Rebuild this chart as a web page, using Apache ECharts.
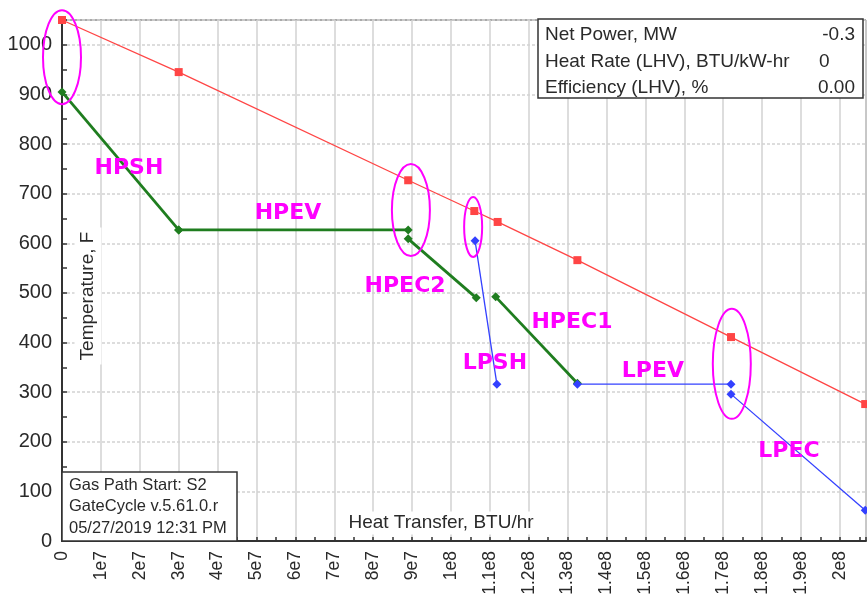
<!DOCTYPE html>
<html><head><meta charset="utf-8">
<script src="https://cdn.jsdelivr.net/npm/echarts@6/dist/echarts.min.js"></script>
<style>html,body{margin:0;padding:0;background:#fff}#c{width:867px;height:595px}</style>
</head><body><div id="c"></div>
<script>
// ---- data ----
const gasX = [0, 3.0e7, 8.9e7, 1.06e8, 1.12e8, 1.325e8, 1.72e8, 2.065e8];
const gasT = [1050, 945, 727, 665, 643, 566, 411, 276];
const hpshX = [0, 3.0e7];         const hpshT = [905, 627];
const hpevX = [3.0e7, 8.9e7];     const hpevT = [627, 627];
const hpec2X = [8.9e7, 1.065e8];  const hpec2T = [609, 490];
const hpec1X = [1.115e8, 1.325e8];const hpec1T = [492, 318];
const lpshX = [1.062e8, 1.118e8]; const lpshT = [605, 316];
const lpevX = [1.325e8, 1.72e8];  const lpevT = [316, 316];
const lpecX = [1.72e8, 2.065e8];  const lpecT = [296, 62];

const annotNames = ['HPSH', 'HPEV', 'HPEC2', 'HPEC1', 'LPSH', 'LPEV', 'LPEC'];
const annotX = [1.72e7, 5.81e7, 8.82e7, 1.311e8, 1.113e8, 1.519e8, 1.869e8];
const annotY = [752, 661, 514, 441, 359, 343, 181];
const ellipseX = [0, 8.97e7, 1.057e8, 1.722e8];
const ellipseY = [975, 667, 633, 357];

const infoLabels = ['Net Power, MW', 'Heat Rate (LHV), BTU/kW-hr', 'Efficiency (LHV), %'];
const infoValues = ['-0.3', '0', '0.00'];
const stampLines = ['Gas Path Start: S2', 'GateCycle v.5.61.0.r', '05/27/2019 12:31 PM'];

const xTitle = 'Heat Transfer, BTU/hr';
const yTitle = 'Temperature, F';

// ---- styles ----
const FONT = '"Liberation Sans", Arial, sans-serif';
const TXT = '#2a2a2a';
const GREEN = '#1f7d1f', RED = '#ff4545', BLUE = '#3340ff', MAG = '#ff00ff';
const ellipseR = [[19, 47], [19, 46], [9, 30], [19, 55]];

function xFmt(v) {
  if (v === 0) return '0';
  return Number(v).toExponential().replace('e+', 'e');
}
function yFmt(v) { return String(v); }
function seg(xs, ys, color, width, symbol, size) {
  return {
    type: 'line', data: xs.map((x, i) => [x, ys[i]]),
    lineStyle: { color: color, width: width }, itemStyle: { color: color },
    symbol: symbol, symbolSize: size, showSymbol: true, clip: false,
    animation: false, silent: true, z: 3
  };
}

const chart = echarts.init(document.getElementById('c'), null, { renderer: 'canvas' });
const option = {
  animation: false,
  backgroundColor: '#fff',
  grid: { left: 62, right: 1, top: 20, bottom: 54, show: true, borderColor: '#555', borderWidth: 1,
    containLabel: false, outerBoundsMode: 'none' },
  xAxis: [{
    type: 'value', min: 0, max: 2.067e8, interval: 1e7,
    axisLine: { show: true, onZero: false, lineStyle: { color: '#333', width: 2 } },
    axisTick: { show: false },
    axisLabel: { rotate: 90, margin: 10, fontSize: 17.5, color: TXT, fontFamily: FONT, formatter: xFmt, showMaxLabel: false },
    splitLine: { show: true, lineStyle: { color: '#d2d2d2', width: 1.5 } }
  }, {
    type: 'value', min: 0, max: 2.067e8, interval: 5e6, position: 'bottom',
    axisLine: { show: false }, axisLabel: { show: false }, splitLine: { show: false },
    axisTick: { show: true, inside: true, length: 4, lineStyle: { color: '#333', width: 1.5 } }
  }],
  yAxis: [{
    type: 'value', min: 0, max: 1050, interval: 100,
    axisLine: { show: true, lineStyle: { color: '#333', width: 2 } },
    axisTick: { show: false },
    axisLabel: { margin: 10, fontSize: 20, color: TXT, fontFamily: FONT, formatter: yFmt, showMaxLabel: false },
    splitLine: { show: true, lineStyle: { color: '#d2d2d2', width: 1.5, type: [3, 2] } }
  }, {
    type: 'value', min: 0, max: 1050, interval: 50, position: 'left',
    axisLine: { show: false }, axisLabel: { show: false }, splitLine: { show: false },
    axisTick: { show: true, inside: true, length: 5, lineStyle: { color: '#333', width: 1.5 } }
  }],
  series: [
    seg(gasX, gasT, RED, 1.3, 'rect', 8),
    seg(hpshX, hpshT, GREEN, 2.8, 'diamond', 9),
    seg(hpevX, hpevT, GREEN, 2.8, 'diamond', 9),
    seg(hpec2X, hpec2T, GREEN, 2.8, 'diamond', 9),
    seg(hpec1X, hpec1T, GREEN, 2.8, 'diamond', 9),
    seg(lpshX, lpshT, BLUE, 1.3, 'diamond', 9),
    seg(lpevX, lpevT, BLUE, 1.3, 'diamond', 9),
    seg(lpecX, lpecT, BLUE, 1.3, 'diamond', 9)
  ]
};
chart.setOption(option);

// ---- annotations placed through the chart's own scales ----
const g = [];
ellipseX.forEach((x, i) => {
  const p = chart.convertToPixel({ gridIndex: 0 }, [x, ellipseY[i]]);
  g.push({ type: 'ellipse', shape: { cx: p[0], cy: p[1], rx: ellipseR[i][0], ry: ellipseR[i][1] },
    style: { fill: 'none', stroke: MAG, lineWidth: 2 }, z: 20, silent: true });
});
annotNames.forEach((t, i) => {
  const p = chart.convertToPixel({ gridIndex: 0 }, [annotX[i], annotY[i]]);
  g.push({ type: 'text', x: p[0], y: p[1], z: 20, silent: true,
    style: { text: t, fill: MAG, font: 'bold 22px "DejaVu Sans", sans-serif', textAlign: 'center', textVerticalAlign: 'middle' } });
});
// axis titles (inside plot, with white box)
g.push({ type: 'text', x: 88, y: 296, rotation: Math.PI / 2, z: 10, silent: true,
  style: { text: yTitle, fill: TXT, font: '19px ' + FONT, textAlign: 'center', textVerticalAlign: 'middle',
    backgroundColor: '#fff', padding: [4, 4] } });
g.push({ type: 'text', x: 441, y: 523, z: 10, silent: true,
  style: { text: xTitle, fill: TXT, font: '19px ' + FONT, textAlign: 'center', textVerticalAlign: 'middle',
    backgroundColor: '#fff', padding: [2, 4] } });
// info box
g.push({ type: 'rect', shape: { x: 538, y: 19, width: 325, height: 79 }, z: 15, silent: true,
  style: { fill: '#fff', stroke: '#333', lineWidth: 1.5 } });
infoLabels.forEach((t, i) => {
  const y = 35 + i * 26.5;
  g.push({ type: 'text', x: 545, y: y, z: 16, silent: true,
    style: { text: t, fill: TXT, font: '19px ' + FONT, textAlign: 'left', textVerticalAlign: 'middle' } });
  const isLeft = i === 1;
  g.push({ type: 'text', x: isLeft ? 819 : 855, y: y, z: 16, silent: true,
    style: { text: infoValues[i], fill: TXT, font: '19px ' + FONT, textAlign: isLeft ? 'left' : 'right', textVerticalAlign: 'middle' } });
});
// stamp box
g.push({ type: 'rect', shape: { x: 62, y: 472, width: 175, height: 69 }, z: 15, silent: true,
  style: { fill: '#fff', stroke: '#333', lineWidth: 1.5 } });
stampLines.forEach((t, i) => {
  g.push({ type: 'text', x: 69, y: 485 + i * 21.5, z: 16, silent: true,
    style: { text: t, fill: TXT, font: '16.5px ' + FONT, textAlign: 'left', textVerticalAlign: 'middle' } });
});
chart.setOption({ graphic: g });
</script></body></html>
